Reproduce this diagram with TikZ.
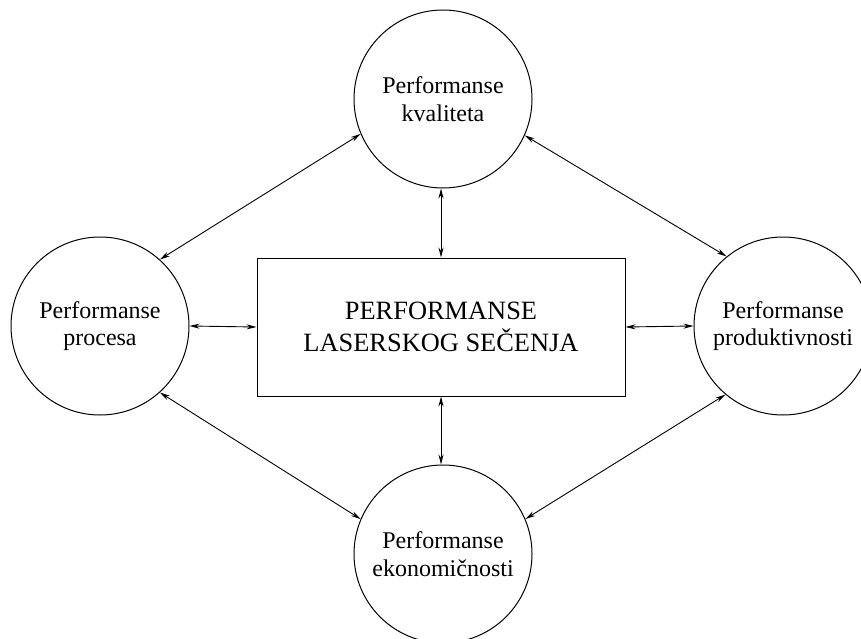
\documentclass[tikz,border=0pt]{standalone}
\usepackage{fontspec}
\setmainfont{Liberation Serif}
\usetikzlibrary{arrows.meta}
\begin{document}
\begin{tikzpicture}[x=1pt,y=-1pt,
  perf/.style={draw, line width=1pt, circle, minimum size=178pt, inner sep=0pt, align=center,
    font=\fontsize{24}{27.5}\selectfont},
  mainbox/.style={draw, line width=1pt, rectangle, minimum width=368pt, minimum height=138pt,
    inner sep=0pt, align=center, font=\fontsize{26.4}{31.5}\selectfont},
  link/.style={line width=0.9pt, {Stealth[length=10pt,width=5pt]}-{Stealth[length=10pt,width=5pt]}}]
\useasboundingbox (0,0) rectangle (861,639);
\node[perf] (top) at (443,99) {Performanse\\kvaliteta};
\node[perf] (left) at (100,326) {Performanse\\procesa};
\node[perf] (right) at (783,326) {Performanse\\produktivnosti};
\node[perf] (bot) at (443,554) {Performanse\\ekonomičnosti};
\node[mainbox] (mid) at (441,327) {PERFORMANSE\\LASERSKOG SEČENJA};
\draw[link] (left.east) -- (mid.west);
\draw[link] (mid.east) -- (right.west);
\draw[link] (top.south -| mid.north) -- (mid.north);
\draw[link] (mid.south) -- (bot.north -| mid.south);
\draw[link] (top.203) -- (left.48);
\draw[link] (top.336) -- (right.129);
\draw[link] (left.312) -- (bot.157);
\draw[link] (bot.23) -- (right.230);
\end{tikzpicture}
\end{document}
